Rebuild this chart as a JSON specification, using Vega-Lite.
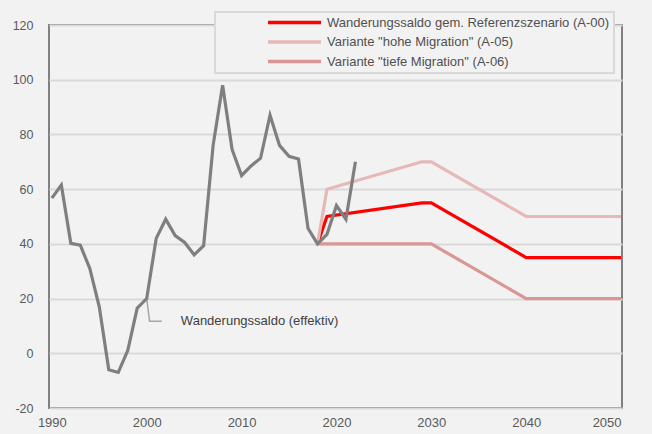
{
  "$schema": "https://vega.github.io/schema/vega-lite/v6.json",
  "width": 573,
  "height": 383,
  "autosize": {"type": "none"},
  "padding": {"left": 49, "top": 25, "right": 30, "bottom": 26},
  "background": "#F2F2F2",
  "config": {
    "view": {"stroke": "#808080", "strokeWidth": 2},
    "font": "Liberation Sans"
  },
  "datasets": {
    "hist": [
      {"year": 1990, "value": 56.7}, {"year": 1991, "value": 61.5}, {"year": 1992, "value": 40.2},
      {"year": 1993, "value": 39.5}, {"year": 1994, "value": 31}, {"year": 1995, "value": 17},
      {"year": 1996, "value": -6}, {"year": 1997, "value": -7}, {"year": 1998, "value": 1},
      {"year": 1999, "value": 16.5}, {"year": 2000, "value": 20}, {"year": 2001, "value": 42},
      {"year": 2002, "value": 49}, {"year": 2003, "value": 43}, {"year": 2004, "value": 40.5},
      {"year": 2005, "value": 36}, {"year": 2006, "value": 39.3}, {"year": 2007, "value": 76},
      {"year": 2008, "value": 98}, {"year": 2009, "value": 74.5}, {"year": 2010, "value": 65},
      {"year": 2011, "value": 68.5}, {"year": 2012, "value": 71.3}, {"year": 2013, "value": 87},
      {"year": 2014, "value": 76}, {"year": 2015, "value": 72}, {"year": 2016, "value": 71},
      {"year": 2017, "value": 45.7}, {"year": 2018, "value": 40}, {"year": 2019, "value": 43.5},
      {"year": 2020, "value": 54}, {"year": 2021, "value": 49}, {"year": 2022, "value": 70}
    ],
    "scen": [
      {"series": "Wanderungssaldo gem. Referenzszenario (A-00)", "year": 2018, "value": 40},
      {"series": "Wanderungssaldo gem. Referenzszenario (A-00)", "year": 2019, "value": 50},
      {"series": "Wanderungssaldo gem. Referenzszenario (A-00)", "year": 2029, "value": 55},
      {"series": "Wanderungssaldo gem. Referenzszenario (A-00)", "year": 2030, "value": 55},
      {"series": "Wanderungssaldo gem. Referenzszenario (A-00)", "year": 2040, "value": 35},
      {"series": "Wanderungssaldo gem. Referenzszenario (A-00)", "year": 2050, "value": 35},
      {"series": "Variante \"hohe Migration\" (A-05)", "year": 2018, "value": 40},
      {"series": "Variante \"hohe Migration\" (A-05)", "year": 2019, "value": 60},
      {"series": "Variante \"hohe Migration\" (A-05)", "year": 2029, "value": 70},
      {"series": "Variante \"hohe Migration\" (A-05)", "year": 2030, "value": 70},
      {"series": "Variante \"hohe Migration\" (A-05)", "year": 2040, "value": 50},
      {"series": "Variante \"hohe Migration\" (A-05)", "year": 2050, "value": 50},
      {"series": "Variante \"tiefe Migration\" (A-06)", "year": 2018, "value": 40},
      {"series": "Variante \"tiefe Migration\" (A-06)", "year": 2019, "value": 40},
      {"series": "Variante \"tiefe Migration\" (A-06)", "year": 2029, "value": 40},
      {"series": "Variante \"tiefe Migration\" (A-06)", "year": 2030, "value": 40},
      {"series": "Variante \"tiefe Migration\" (A-06)", "year": 2040, "value": 20},
      {"series": "Variante \"tiefe Migration\" (A-06)", "year": 2050, "value": 20}
    ],
    "leader": [
      {"year": 2000, "value": 20, "o": 1},
      {"year": 2000.3, "value": 11.7, "o": 2},
      {"year": 2001.6, "value": 11.7, "o": 3}
    ],
    "label": [
      {"year": 2003.6, "value": 11.7, "text": "Wanderungssaldo (effektiv)"}
    ],
    "zero": [{"value": 0}]
  },
  "encoding": {
    "x": {
      "field": "year", "type": "quantitative",
      "scale": {"domain": [1989.7, 2050.1], "nice": false, "zero": false},
      "axis": {
        "values": [1990, 2000, 2010, 2020, 2030, 2040, 2050],
        "format": "d", "title": null, "grid": false, "domain": false, "ticks": false,
        "labelFontSize": 13, "labelColor": "#595959", "labelPadding": 8,
        "labelFont": "Liberation Sans"
      }
    },
    "y": {
      "field": "value", "type": "quantitative",
      "scale": {"domain": [-20, 120], "nice": false},
      "axis": {
        "values": [-20, 0, 20, 40, 60, 80, 100, 120],
        "labelExpr": "'' + datum.value",
        "title": null, "domain": false, "ticks": false,
        "grid": true, "gridColor": "#D9D9D9", "gridWidth": 2,
        "labelFontSize": 12.5, "labelColor": "#595959", "labelPadding": 16,
        "labelFont": "Liberation Sans"
      }
    }
  },
  "layer": [
    {
      "data": {"name": "zero"},
      "mark": {"type": "rule", "color": "#808080", "strokeWidth": 2},
      "encoding": {"y": {"field": "value", "type": "quantitative"}}
    },
    {
      "data": {"name": "leader"},
      "mark": {"type": "line", "color": "#A6A6A6", "strokeWidth": 1.5},
      "encoding": {"order": {"field": "o", "type": "quantitative"}}
    },
    {
      "data": {"name": "scen"},
      "mark": {"type": "line", "strokeWidth": 3.2, "strokeJoin": "miter"},
      "encoding": {
        "color": {
          "field": "series", "type": "nominal",
          "scale": {
            "domain": ["Wanderungssaldo gem. Referenzszenario (A-00)", "Variante \"hohe Migration\" (A-05)", "Variante \"tiefe Migration\" (A-06)"],
            "range": ["#FF0000", "#E6B9B8", "#D99694"]
          },
          "legend": {
            "title": null, "orient": "none", "legendX": 166, "legendY": -13,
            "symbolType": "stroke", "symbolSize": 2809, "symbolStrokeWidth": 3.5,
            "symbolOffset": 47, "labelOffset": 4, "clipHeight": 13,
            "labelFontSize": 13, "labelColor": "#505050", "labelFont": "Liberation Sans",
            "labelLimit": 500,
            "labelExpr": "datum.label + '\u00a0\u00a0\u00a0\u00a0\u00a0\u00a0\u00a0\u00a0\u00a0\u00a0\u00a0\u00a0\u00a0'",
            "padding": 4, "rowPadding": 5.5,
            "fillColor": "#F2F2F2", "strokeColor": "#D9D9D9",
            "encode": {"legend": {"update": {"strokeWidth": {"value": 2}}}}
          }
        }
      }
    },
    {
      "data": {"name": "hist"},
      "mark": {"type": "line", "color": "#7F7F7F", "strokeWidth": 3.2, "strokeJoin": "miter"}
    },
    {
      "data": {"name": "label"},
      "mark": {"type": "text", "align": "left", "baseline": "middle", "fontSize": 13, "color": "#404040", "font": "Liberation Sans"},
      "encoding": {"text": {"field": "text"}}
    }
  ]
}
